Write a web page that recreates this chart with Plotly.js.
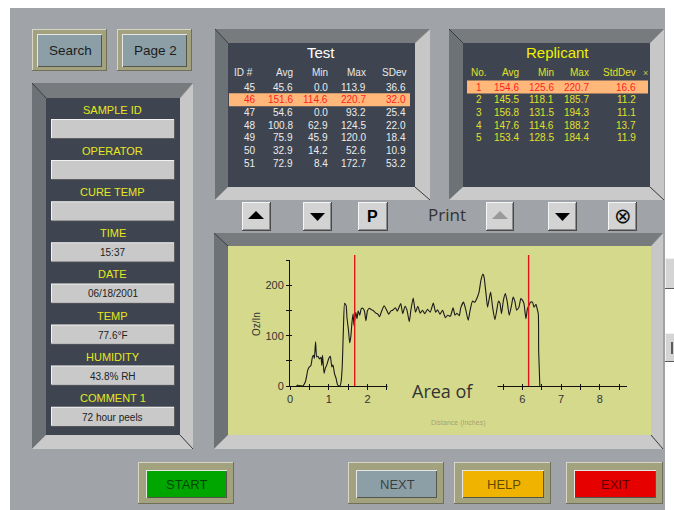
<!DOCTYPE html>
<html><head><meta charset="utf-8">
<script src="https://cdn.plot.ly/plotly-3.0.1.min.js"></script>
<style>html,body{margin:0;padding:0;background:#fff;overflow:hidden}</style>
</head><body><div id="chart" style="width:674px;height:510px"></div>
<script>
// ---- chart data (peel force vs distance) ----
const peelDist = [0.17,0.20,0.22,0.25,0.33,0.40,0.46,0.50,0.54,0.58,
0.61,0.63,0.66,0.69,0.72,0.76,0.80,0.82,0.84,0.88,
0.91,0.95,1.00,1.04,1.08,1.11,1.15,1.19,1.23,1.29,
1.32,1.35,1.38,1.41,1.45,1.47,1.51,1.54,1.57,1.60,
1.63,1.65,1.68,1.70,1.73,1.76,1.80,1.84,1.88,1.92,
1.96,2.00,2.05,2.10,2.14,2.18,2.22,2.26,2.31,2.37,
2.43,2.49,2.55,2.60,2.65,2.72,2.77,2.82,2.86,2.91,
2.97,3.02,3.08,3.12,3.18,3.24,3.30,3.36,3.42,3.48,
3.55,3.62,3.70,3.76,3.81,3.87,3.94,4.01,4.07,4.14,
4.21,4.26,4.31,4.37,4.41,4.48,4.54,4.60,4.65,4.71,
4.77,4.82,4.88,4.93,4.98,5.01,5.06,5.10,5.15,5.18,
5.23,5.29,5.34,5.38,5.42,5.46,5.51,5.56,5.61,5.66,
5.72,5.76,5.81,5.85,5.91,5.96,6.00,6.04,6.09,6.13,
6.17,6.21,6.26,6.30,6.35,6.38,6.41,6.42,6.45];
const peelForce = [0,2,0,1,0,9,32,38,41,58,
61,55,88,58,59,54,57,41,61,25,
35,42,55,59,38,42,24,15,2,0,
9,42,117,165,160,137,111,86,98,127,
144,121,137,147,134,150,141,154,155,150,
130,150,155,152,151,148,145,144,138,150,
160,152,143,149,151,156,149,158,164,144,
159,151,128,151,175,147,159,145,151,144,
153,147,165,147,152,143,151,136,141,139,
156,141,145,140,156,167,151,131,151,169,
167,174,187,211,223,217,184,157,177,187,
157,132,152,169,165,144,171,184,167,141,
161,177,167,151,157,174,171,164,134,154,
161,167,167,157,163,154,144,68,0];
const cursorX = [1.67, 6.16];
const xTickVals = [0,0.5,1,1.5,2,2.5,3,3.5,4,4.5,5,5.5,6,6.5,7,7.5,8,8.5];
// labels 3, 4, 5 are hidden behind the caption in the reference
const xTickText = ['0','','1','','2','','','','','','','','6','','7','','8',''];
const yTickVals = [0,50,100,150,200,250];
const yTickText = ['0','','100','','200',''];
const yTitle = 'Oz/In';
const xTitle = 'Distance (Inches)';
const chartCaption = 'Area of';

// ---- Test table ----
const testHeader = ['ID #','Avg','Min','Max','SDev'];
const testId   = ['45','46','47','48','49','50','51'];
const testAvg  = ['45.6','151.6','54.6','100.8','75.9','32.9','72.9'];
const testMin  = ['0.0','114.6','0.0','62.9','45.9','14.2','8.4'];
const testMax  = ['113.9','220.7','93.2','124.5','120.0','52.6','172.7'];
const testSDev = ['36.6','32.0','25.4','22.0','18.4','10.9','53.2'];
const testSelected = 1;

// ---- Replicant table ----
const repHeader = ['No.','Avg','Min','Max','StdDev'];
const repNo  = ['1','2','3','4','5'];
const repAvg = ['154.6','145.5','156.8','147.6','153.4'];
const repMin = ['125.6','118.1','131.5','114.6','128.5'];
const repMax = ['220.7','185.7','194.3','188.2','184.4'];
const repStd = ['16.6','11.2','11.1','13.7','11.9'];
const repSelected = 0;

// ---- sample info ----
const fieldLabels = ['SAMPLE ID','OPERATOR','CURE TEMP','TIME','DATE','TEMP','HUMIDITY','COMMENT 1'];
const fieldValues = ['','','','15:37','06/18/2001','77.6°F','43.8% RH','72 hour peels'];

const topButtons = ['Search','Page 2'];
const bottomButtons = ['START','NEXT','HELP','EXIT'];
const bottomColors = ['#00a600','#8c9ea6','#f0b400','#e60000'];

// ---------- helpers ----------
const W = 674, H = 510;
const UI = 'Liberation Sans, Arial, sans-serif';
const fx = v => v / W, fy = v => 1 - v / H;
const shapes = [], anns = [];
function rect(x0,y0,x1,y1,fill,layer){shapes.push({type:'rect',xref:'paper',yref:'paper',x0:fx(x0),x1:fx(x1),y0:fy(y1),y1:fy(y0),fillcolor:fill,line:{width:0},layer:layer||'below'});}
function poly(pts,fill,layer){shapes.push({type:'path',xref:'paper',yref:'paper',path:'M'+pts.map(p=>fx(p[0]).toFixed(5)+','+fy(p[1]).toFixed(5)).join(' L')+' Z',fillcolor:fill,line:{width:0},layer:layer||'below'});}
function seg(x0,y0,x1,y1,color,w,layer){shapes.push({type:'line',xref:'paper',yref:'paper',x0:fx(x0),y0:fy(y0),x1:fx(x1),y1:fy(y1),line:{color:color,width:w},layer:layer||'below'});}
function txt(s,x,y,size,color,anchor,family,extra){anns.push(Object.assign({text:s,x:fx(x),y:fy(y),xref:'paper',yref:'paper',xanchor:anchor||'center',yanchor:'middle',showarrow:false,font:{size:size,color:color,family:family||UI}},extra||{}));}

function sunken(o, i, inner){
  const [x0,y0,x1,y1] = o, [a0,b0,a1,b1] = i;
  poly([[x0,y0],[x1,y0],[a1,b0],[a0,b0]],'#777b7e');
  poly([[x0,y0],[a0,b0],[a0,b1],[x0,y1]],'#6c7276');
  poly([[x1,y0],[x1,y1],[a1,b1],[a1,b0]],'#c7c7c7');
  poly([[x0,y1],[a0,b1],[a1,b1],[x1,y1]],'#cacaca');
  rect(a0,b0,a1,b1,inner);
  seg(x0,y0,a0,b0,'#3a3a3a',1);
  seg(a1,b1,x1,y1,'#3a3a3a',1);
  seg(x1,y0,a1,b0,'#8a8a8a',0.7);
}
function grayButton(x0,y0,x1,y1){
  rect(x0,y0,x1,y1,'#4a4a4a');
  rect(x0,y0,x1-1,y1-1,'#f6f6f6');
  rect(x0+1,y0+1,x1-1,y1-1,'#8c8c8c');
  rect(x0+1,y0+1,x1-2,y1-2,'#d3d3d3');
}
function framedButton(o,i,face){
  const [x0,y0,x1,y1]=o,[a0,b0,a1,b1]=i;
  rect(x0,y0,x1,y1,'#70705a');
  rect(x0,y0,x1-1,y1-1,'#d6d7c8');
  rect(x0+1,y0+1,x1-1,y1-1,'#a2a37e');
  rect(a0-1,b0-1,a1+1,b1+1,'#e6e6e6');
  rect(a0,b0,a1+1,b1+1,'#55554a');
  rect(a0,b0,a1,b1,face);
}

// ---------- background ----------
rect(10,8,665,510,'#a0a3a7');

// top-left buttons
[[32,29,107,71],[117,29,192,71]].forEach((o,k)=>{
  framedButton(o,[o[0]+6,o[1]+6,o[2]-6,o[3]-5],'#8d9fa6');
  txt(topButtons[k],(o[0]+o[2])/2+1,51,13.5,'#1c1c1c');
});

// left info panel
sunken([32,83,193,449],[46,98,180,435],'#3e4550');
fieldLabels.forEach((lab,k)=>{
  const ly = 110 + k*41.1;
  txt(lab,113,ly,11,'#e8e81e');
  const t = ly + 9;
  rect(51,t,175,t+20,'#5e5e5e');
  rect(51,t,174,t+19,'#f2f2f2');
  rect(52,t+1,174,t+19,'#c9c9c9');
  if(fieldValues[k]) txt(fieldValues[k],113,t+10.5,10,'#222');
});

// Test panel
sunken([215,29,430,200],[228,43,415,187],'#3e4550');
txt('Test',321,53,15,'#ffffff');
const tCols=[258,295,330,368,408];
const tData=[testId,testAvg,testMin,testMax,testSDev];
txt(testHeader[0],232,73,10,'#e8e8e8','left');
for(let c=1;c<5;c++) txt(testHeader[c],tCols[c],73,10,'#e8e8e8','right');
testId.forEach((_,r)=>{
  const y=87+r*12.75, sel=r===testSelected;
  if(sel) rect(229,y-6.5,410,y+6.5,'#ffb87a');
  for(let c=0;c<5;c++) txt(tData[c][r],tCols[c],y,10,sel?'#ff1e1e':'#ececec','right');
});

// Replicant panel
sunken([449,29,664,200],[463,43,650,187],'#3e4550');
txt('Replicant',557,53,15,'#f0f000');
const rCols=[484,521,556,591,638];
const rData=[repNo,repAvg,repMin,repMax,repStd];
txt(repHeader[0],469,73,10,'#e0e02a','left');
for(let c=1;c<5;c++) txt(repHeader[c],rCols[c],73,10,'#e0e02a','right');
txt('×',645,73,9,'#c8c850');
repNo.forEach((_,r)=>{
  const y=87+r*12.75, sel=r===repSelected;
  if(sel) rect(467,y-6.5,648,y+6.5,'#ffb87a');
  for(let c=0;c<5;c++) txt(rData[c][r],rCols[c],y,10,sel?'#ff1e1e':'#e0e02a','right');
});

// middle button row
[[242,271],[303,332],[358,388],[486,514],[548,577],[608,637]].forEach(b=>grayButton(b[0],202,b[1],231));
poly([[248,219],[264,219],[256,211]],'#000');
poly([[310,213],[325,213],[317.5,221]],'#000');
poly([[492,219],[508,219],[500,211]],'#9a9a9a');
poly([[555,213],[570,213],[562.5,221]],'#000');
txt('<b>P</b>',373,216.5,16,'#000');
txt('Print',447,214,17,'#333','center','Open Sans, Noto Sans, sans-serif');
txt('⊗',622.5,216,21,'#111','center','DejaVu Sans, sans-serif');

// chart panel
sunken([214,233,663,449],[228,246,651,435],'#d5d98c');

// right edge partial buttons
[[258,289],[333,362]].forEach(b=>{
  rect(665,b[0],674,b[1],'#5a5a5a');
  rect(665,b[0],674,b[1]-1,'#f2f2f2');
  rect(666,b[0]+1,674,b[1]-1,'#d4d4d4');
});
seg(672,342,672,354,'#333',1.5);

// bottom buttons
[[138,234],[348,444],[454,551],[566,663]].forEach((b,k)=>{
  framedButton([b[0],462,b[1],504],[b[0]+9,471,b[1]-8,497],bottomColors[k]);
  txt(bottomButtons[k],(b[0]+b[1])/2+1,484.5,13,'rgba(0,0,0,0.62)');
});

// chart cover & caption
rect(387.5,379,497.5,409,'#d5d98c','above');
txt(chartCaption,442.5,391,18,'#333','center','Open Sans, Noto Sans, sans-serif');
txt(xTitle,458,423,7,'rgba(70,70,70,0.4)');
txt(yTitle,256,324,10,'#333','center',UI,{textangle:-90});

// cursor lines
cursorX.forEach(cx=>shapes.push({type:'line',xref:'x',yref:'paper',x0:cx,x1:cx,y0:fy(386),y1:fy(255),line:{color:'#e3141c',width:1.4},layer:'above'}));

const axBase = {showgrid:false,zeroline:false,showline:true,linecolor:'#111',linewidth:1,ticks:'outside',ticklen:3,tickwidth:1,tickcolor:'#111',tickfont:{size:11,color:'#333',family:UI},fixedrange:true};
const layout = {
  width:W,height:H,margin:{l:0,r:0,t:0,b:0,pad:0},
  paper_bgcolor:'#ffffff',plot_bgcolor:'rgba(0,0,0,0)',showlegend:false,
  font:{family:UI},
  xaxis:Object.assign({},axBase,{domain:[fx(290),fx(627)],range:[0,8.7],tickmode:'array',tickvals:xTickVals,ticktext:xTickText,anchor:'y'}),
  yaxis:Object.assign({},axBase,{domain:[fy(386),fy(260)],range:[0,251],tickmode:'array',tickvals:yTickVals,ticktext:yTickText,anchor:'x'}),
  xaxis2:{overlaying:'x',anchor:'y2',range:[0,8.7],tickmode:'array',tickvals:xTickVals,ticks:'inside',ticklen:2,tickcolor:'#111',showticklabels:false,showline:false,showgrid:false,zeroline:false},
  yaxis2:{overlaying:'y',anchor:'x2',range:[0,251],tickmode:'array',tickvals:yTickVals,ticks:'inside',ticklen:2,tickcolor:'#111',showticklabels:false,showline:false,showgrid:false,zeroline:false},
  shapes:shapes,annotations:anns
};
const traces = [
  {x:peelDist,y:peelForce,type:'scatter',mode:'lines',line:{color:'#1a1a1a',width:1.1,shape:'spline',smoothing:0.5},hoverinfo:'skip'},
  {x:[null],y:[null],xaxis:'x2',yaxis:'y2',type:'scatter',mode:'lines',hoverinfo:'skip'}
];
Plotly.newPlot('chart',traces,layout,{staticPlot:true,displayModeBar:false});
</script></body></html>
